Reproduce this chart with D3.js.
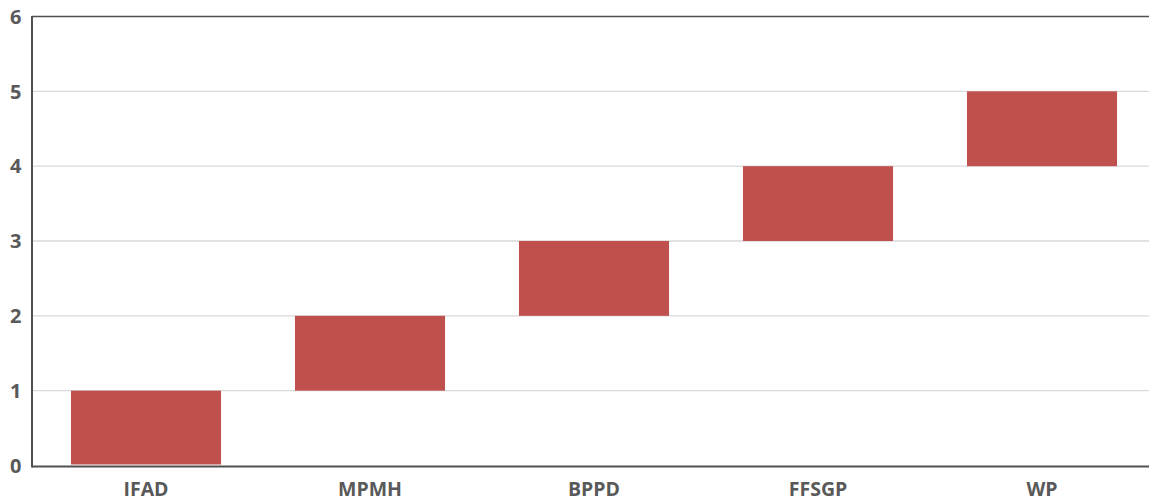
<!DOCTYPE html>
<html><head><meta charset="utf-8">
<script src="https://cdn.jsdelivr.net/npm/d3@7"></script>
<style>body{margin:0;background:#fff;overflow:hidden}svg{display:block}</style>
</head><body>
<svg id="c" width="1149" height="501"></svg>
<script>
const categories = ["IFAD","MPMH","BPPD","FFSGP","WP"];
const starts = [0,1,2,3,4];
const ends = [1,2,3,4,5];
const yTicks = [0,1,2,3,4,5,6];

const svg = d3.select("#c");
const x = d3.scaleBand().domain(categories).range([34,1154]).paddingInner(0.33).paddingOuter(0.165);
const y = d3.scaleLinear().domain([0,6]).range([465.5,16.5]);
const font = "'Open Sans', 'Liberation Sans', sans-serif";

// gridlines
svg.append("g").selectAll("line").data(yTicks.filter(d=>d>0 && d<6)).join("line")
  .attr("x1",32).attr("x2",1149).attr("y1",d=>y(d)).attr("y2",d=>y(d))
  .attr("stroke","#d9d9d9").attr("stroke-width",1.3);

// bars
svg.append("g").selectAll("rect").data(categories).join("rect")
  .attr("x",d=>x(d)).attr("width",x.bandwidth())
  .attr("y",(d,i)=>y(ends[i])).attr("height",(d,i)=>y(starts[i])-y(ends[i]) - (starts[i]===0?1:0))
  .attr("fill","#C0504D");

// frame lines
svg.append("line").attr("x1",32).attr("x2",1149).attr("y1",16.5).attr("y2",16.5).attr("stroke","#505050").attr("stroke-width",1.6);
svg.append("line").attr("x1",32).attr("x2",1149).attr("y1",466.5).attr("y2",466.5).attr("stroke","#505050").attr("stroke-width",2);
svg.append("line").attr("x1",32).attr("x2",32).attr("y1",16).attr("y2",467.5).attr("stroke","#505050").attr("stroke-width",2);

// y tick labels
svg.append("g").selectAll("text").data(yTicks).join("text")
  .attr("x",21.5).attr("y",d=>y(d)).attr("dy","0.36em").attr("text-anchor","end")
  .attr("font-family",font).attr("font-weight","bold").attr("font-size",20)
  .attr("fill","#595959").text(d=>d);

// x labels
svg.append("g").selectAll("text").data(categories).join("text")
  .attr("x",d=>x(d)+x.bandwidth()/2).attr("y",495.5).attr("text-anchor","middle")
  .attr("font-family",font).attr("font-weight","bold").attr("font-size",19.5)
  .attr("fill","#595959").text(d=>d);
</script>
</body></html>
